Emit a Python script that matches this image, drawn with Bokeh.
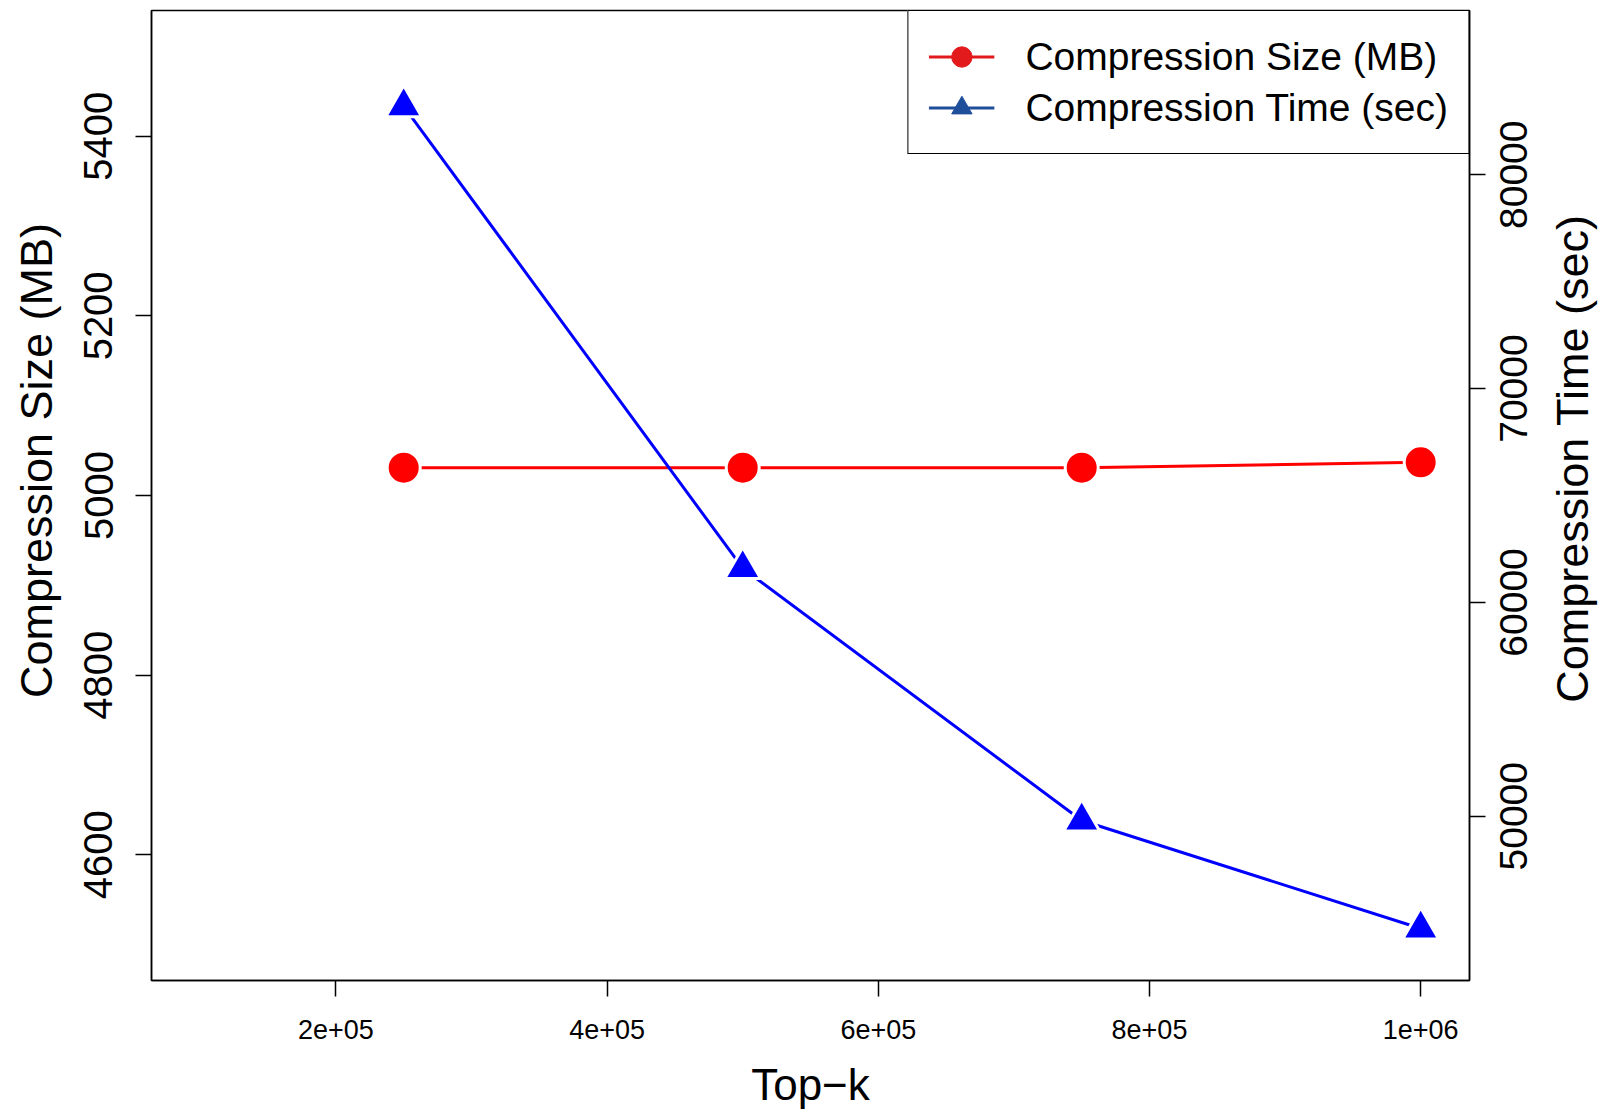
import math
from bokeh.plotting import figure
from bokeh.layouts import row
from bokeh.models import (Range1d, LinearAxis, FixedTicker, Legend, LegendItem,
                          ColumnDataSource)
from bokeh.core.properties import value
from bokeh.embed import file_html
from bokeh.resources import INLINE

# ---- data -------------------------------------------------------------
top_k = [250000, 500000, 750000, 1000000]
size_mb = [5031, 5031, 5031, 5037]
time_sec = [83200, 61600, 49800, 44750]

x_ticks = [200000, 400000, 600000, 800000, 1000000]
x_tick_labels = ["2e+05", "4e+05", "6e+05", "8e+05", "1e+06"]
size_ticks = [4600, 4800, 5000, 5200, 5400]
time_ticks = [50000, 60000, 70000, 80000]
time_tick_labels = ["50000", "60000", "70000", "80000"]

x_lim = (100000, 1000000)
size_lim = (4500, 5500)
time_lim = (44000, 86000)

series_names = ["Compression Size (MB)", "Compression Time (sec)"]
x_title = "Top\u2212k"


def pad(lo, hi, f=0.04):
    d = (hi - lo) * f
    return lo - d, hi + d


FONT = "Liberation Sans"
W, H = 1599, 1111
TOP, BOTTOM = 10, 130
LEFT_W, RIGHT_W = 66, 110

x_rng = Range1d(*pad(*x_lim))
size_rng = Range1d(*pad(*size_lim))
time_rng = Range1d(*pad(*time_lim))

# ---- main plot ---------------------------------------------------------
p = figure(width=W - LEFT_W - RIGHT_W, height=H, output_backend="svg",
           toolbar_location=None, x_range=x_rng, y_range=size_rng,
           min_border_left=85, min_border_right=20, min_border_top=TOP,
           min_border_bottom=BOTTOM)
p.extra_y_ranges = {"time": time_rng}
p.xgrid.visible = False
p.ygrid.visible = False
p.outline_line_color = "black"
p.outline_line_width = 1.5
p.outline_line_alpha = 1.0
p.background_fill_color = "white"
p.border_fill_color = "white"

xa = p.xaxis[0]
ya = p.yaxis[0]
ra = LinearAxis(y_range_name="time")
p.add_layout(ra, "right")

xa.ticker = FixedTicker(ticks=x_ticks)
xa.major_label_overrides = {t: l for t, l in zip(x_ticks, x_tick_labels)}
ya.ticker = FixedTicker(ticks=size_ticks)
ra.ticker = FixedTicker(ticks=time_ticks)
ra.major_label_overrides = {t: "" for t in time_ticks}

xa.axis_label = x_title

for ax in (xa, ya, ra):
    ax.axis_label_text_font = FONT
    ax.axis_label_text_font_style = "normal"
    ax.axis_label_text_color = "black"
    ax.major_label_text_font = FONT
    ax.major_label_text_color = "black"
    ax.major_tick_out = 16
    ax.major_tick_in = 0
    ax.minor_tick_out = 0
    ax.minor_tick_in = 0
    ax.major_tick_line_color = "black"
    ax.major_tick_line_width = 1.5
    ax.axis_line_color = "black"
    ax.axis_line_width = 1.5

xa.major_label_text_font_size = "27px"
xa.axis_label_text_font_size = "44px"
xa.major_label_standoff = 23
xa.axis_label_standoff = 18

ya.major_label_text_font_size = "40px"
ya.major_label_orientation = "parallel"
ya.major_label_standoff = 23

ra.major_label_text_font_size = "1px"
ra.major_label_standoff = 0

src = ColumnDataSource(data=dict(k=top_k, size=size_mb, time=time_sec))

p.line("k", "size", source=src, line_color="#FF0000", line_width=3)
p.scatter("k", "size", source=src, marker="circle", size=33,
          fill_color="#FF0000", line_color="white", line_width=3)
p.line("k", "time", source=src, y_range_name="time", line_color="#0000FF",
       line_width=3)
p.scatter("k", "time", source=src, y_range_name="time", marker="triangle",
          size=35.9, fill_color="#0000FF", line_color="white", line_width=3)

# legend keys (the R legend drew its own colours)
nan = float("nan")
empty = ColumnDataSource(data=dict(x=[nan], y=[nan]))
lr1 = p.line("x", "y", source=empty, line_color="#E31A1C", line_width=3)
lm1 = p.scatter("x", "y", source=empty, marker="circle", size=16.5,
                fill_color="#E31A1C", line_color="#E31A1C")
lr2 = p.line("x", "y", source=empty, line_color="#1F4E9B", line_width=3)
lm2 = p.scatter("x", "y", source=empty, marker="triangle", size=22,
                fill_color="#1F4E9B", line_color="#1F4E9B")

legend = Legend(items=[LegendItem(label=series_names[0], renderers=[lr1, lm1]),
                       LegendItem(label=series_names[1], renderers=[lr2, lm2])],
                location="top_right", margin=0, padding=20, spacing=0,
                glyph_width=66, glyph_height=51, label_height=51,
                label_standoff=31, label_text_font=FONT,
                label_text_font_size="39px", label_text_color="black",
                border_line_color="black", border_line_width=1.5,
                border_line_alpha=1.0,
                background_fill_color="white", background_fill_alpha=1.0)
p.add_layout(legend)


# ---- side strips holding the rotated texts (read bottom-to-top) --------
def strip(width, y_rng):
    f = figure(width=width, height=H, output_backend="svg",
               toolbar_location=None, x_range=Range1d(0, 1), y_range=y_rng,
               x_axis_type=None, y_axis_type=None, min_border_left=0,
               min_border_right=0, min_border_top=TOP,
               min_border_bottom=BOTTOM)
    f.xgrid.visible = False
    f.ygrid.visible = False
    f.outline_line_color = None
    f.background_fill_color = "white"
    f.border_fill_color = "white"
    return f


left = strip(LEFT_W, size_rng)
mid_size = (size_rng.start + size_rng.end) / 2
left.text(x=[0], y=[mid_size], text=[series_names[0]], x_offset=36,
          y_offset=-35, angle=math.pi / 2, text_align="center",
          text_baseline="middle", text_font=value(FONT),
          text_font_size="45px", text_color="black")

right = strip(RIGHT_W, time_rng)
right.text(x=[0] * len(time_ticks), y=time_ticks, text=time_tick_labels,
           x_offset=24, angle=math.pi / 2, text_align="center",
           text_baseline="middle", text_font=value(FONT),
           text_font_size="39px", text_color="black")
mid_time = (time_rng.start + time_rng.end) / 2
right.text(x=[0], y=[mid_time], text=[series_names[1]], x_offset=83,
           y_offset=-37, angle=math.pi / 2, text_align="center",
           text_baseline="middle", text_font=value(FONT),
           text_font_size="45px", text_color="black")

layout = row(left, p, right, spacing=0)

open("out.html", "w").write(file_html(layout, INLINE))
